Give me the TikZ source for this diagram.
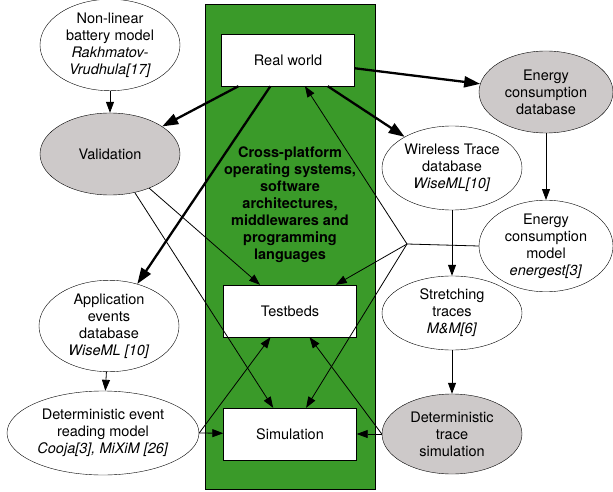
\documentclass[tikz,border=0pt]{standalone}
\usepackage{fontspec}
\setmainfont{TeX Gyre Heros}
\usetikzlibrary{arrows.meta,shapes.geometric}
\definecolor{platgreen}{HTML}{3A9A29}
\definecolor{dbgray}{HTML}{CDC9C9}
\tikzset{
	blob/.style={draw, ellipse, inner sep=0pt, align=center, font=\fontsize{14.5}{17}\selectfont},
	greyblob/.style={blob, fill=dbgray},
	worldbox/.style={draw, fill=white, rectangle, minimum width=133pt, minimum height=52pt, inner sep=0pt, font=\fontsize{14.5}{17}\selectfont},
	thinarrow/.style={line width=0.8pt, -{Triangle[length=11pt, width=8pt]}},
	thickarrow/.style={line width=2.3pt, -{Triangle[length=16pt, width=11pt]}},
	plainline/.style={line width=0.8pt}
}

\begin{document}
\begin{tikzpicture}[x=1pt, y=-1pt]
		%%%%% START %%%%%
		\useasboundingbox (0, 0) rectangle (613, 492);
		
		\draw[fill=platgreen, line width=0.8pt] (205, 4) rectangle (375, 489);
		\node[align=center, font=\fontsize{14.5}{17}\selectfont\bfseries] (platforms) at (290, 205) {Cross-platform\\operating systems,\\software\\architectures,\\middlewares and\\programming\\languages};
		
		\node[worldbox] (realworld) at (288, 60) {Real world};
		\node[worldbox] (testbeds) at (290, 311) {Testbeds};
		\node[worldbox] (simulation) at (290, 434) {Simulation};
		
		\node[blob, minimum width=140pt, minimum height=84pt] (nonlinear) at (110, 45) {Non-linear\\battery model\\\textit{Rakhmatov-}\\\textit{Vrudhula[17]}};
		\node[greyblob, minimum width=140pt, minimum height=82pt] (validation) at (110, 154) {Validation};
		\node[blob, minimum width=140pt, minimum height=82pt] (appevents) at (109, 326) {Application\\events\\database\\\textit{WiseML [10]}};
		\node[blob, minimum width=192pt, minimum height=84pt] (eventread) at (103, 433) {Deterministic event\\reading model\\\textit{Cooja[3], MiXiM [26]}};
		
		\node[greyblob, minimum width=134pt, minimum height=82pt] (energydb) at (546, 92) {Energy\\consumption\\database};
		\node[blob, minimum width=140pt, minimum height=84pt] (wireless) at (452, 168) {Wireless Trace\\database\\\textit{WiseML[10]}};
		\node[blob, minimum width=134pt, minimum height=82pt] (energymodel) at (546, 246) {Energy\\consumption\\model\\\textit{energest[3]}};
		\node[blob, minimum width=140pt, minimum height=74pt] (stretching) at (452, 313) {Stretching\\traces\\\textit{M\&M[6]}};
		\node[greyblob, minimum width=140pt, minimum height=80pt] (tracesim) at (452, 434) {Deterministic\\trace\\simulation};
		
		\coordinate (junc) at (407, 244);
		
		% real world outputs
		\draw[thickarrow] (realworld) -- (validation);
		\draw[thickarrow] (realworld) -- (appevents);
		\draw[thickarrow] (realworld) -- (energydb);
		\draw[thickarrow] (realworld) -- (wireless);
		
		\draw[thinarrow] (nonlinear) -- (validation);
		\draw[thinarrow] (validation) -- (testbeds);
		\draw[thinarrow] (validation) -- (simulation);
		\draw[thinarrow] (appevents) -- (eventread);
		\draw[thinarrow] (eventread.east) -- (simulation);
		\draw[thinarrow] (eventread.east) -- (testbeds);
		
		\draw[thinarrow] (energydb) -- (energymodel);
		\draw[thinarrow] (wireless) -- (stretching);
		\draw[thinarrow] (stretching) -- (tracesim);
		\draw[thinarrow] (tracesim.west) -- (simulation);
		\draw[thinarrow] (tracesim.west) -- (testbeds);
		
		% energy model fan-out
		\draw[plainline] (energymodel.west) -- (junc);
		\draw[thinarrow] (junc) -- (realworld);
		\draw[thinarrow] (junc) -- (testbeds);
		\draw[thinarrow] (junc) -- (simulation);
		
		%%%%% END %%%%%
	\end{tikzpicture}
\end{document}
